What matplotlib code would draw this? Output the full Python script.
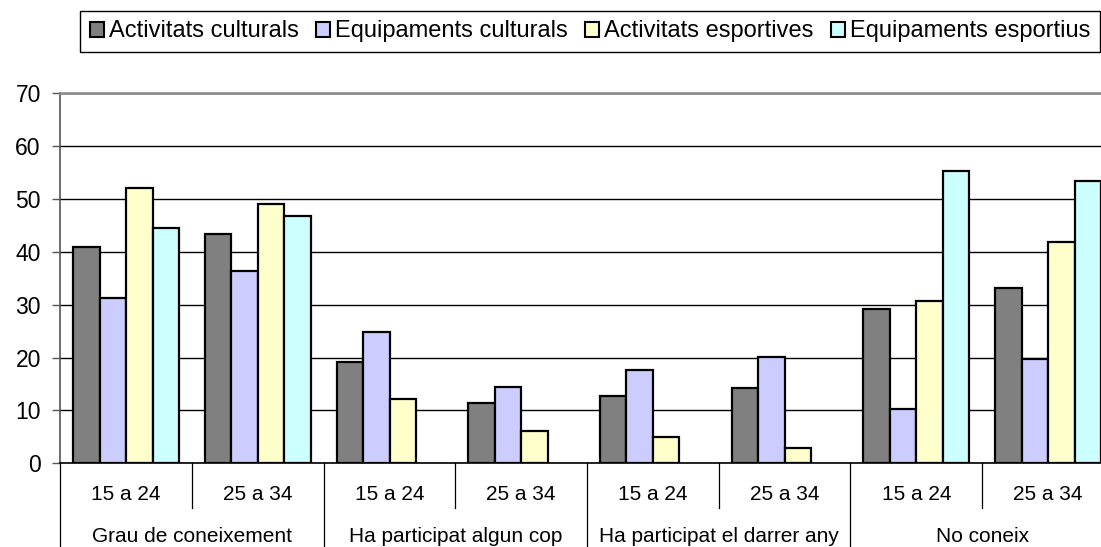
import numpy as np
import matplotlib
matplotlib.use("Agg")
import matplotlib.pyplot as plt
from matplotlib.patches import Patch

plt.rcParams['font.family'] = ['Liberation Sans', 'DejaVu Sans']

# data
groups = ['Grau de coneixement', 'Ha participat algun cop',
          'Ha participat el darrer any', 'No coneix']
ages = ['15 a 24', '25 a 34']
series = ['Activitats culturals', 'Equipaments culturals',
          'Activitats esportives', 'Equipaments esportius']

act_cult = [41.0, 43.4, 19.1, 11.5, 12.7, 14.2, 29.1, 33.1]
equip_cult = [31.3, 36.4, 24.8, 14.5, 17.7, 20.1, 10.3, 19.7]
act_esp = [52.0, 49.0, 12.1, 6.1, 4.9, 2.9, 30.8, 41.9]
equip_esp = [44.6, 46.7, np.nan, np.nan, np.nan, np.nan, 55.3, 53.5]

colors = ['#808080', '#CCCCFF', '#FFFFCC', '#CCFFFF']

W, H = 1101, 547
fig = plt.figure(figsize=(W / 100, H / 100), dpi=100)

# plot area (runs off the right edge like the original)
x0, y0 = 60.3, 463.3
grp_w = 131.7
ytop = 93.3
ax = fig.add_axes([x0 / W, (H - y0) / H, 8 * grp_w / W, (y0 - ytop) / H])

n = len(act_cult)
x = np.arange(n) + 0.5
bw = 0.201
all_vals = [act_cult, equip_cult, act_esp, equip_esp]
for k, vals in enumerate(all_vals):
    ax.bar(x + (k - 1.5) * bw, vals, width=bw, color=colors[k],
           edgecolor='black', linewidth=1.6, zorder=3)

ax.set_xlim(0, n)
ax.set_ylim(0, 70)
ax.set_yticks(range(0, 71, 10))
ax.yaxis.grid(True, color='black', linewidth=1.0, zorder=0)
ax.set_axisbelow(True)
ax.tick_params(axis='y', direction='out', length=6, width=1, color='#555555',
               pad=8, labelsize=16.5)
ax.set_xticks([])

ax.spines['right'].set_visible(False)
ax.spines['top'].set_color('#888888')
ax.spines['top'].set_linewidth(1.8)
ax.spines['left'].set_color('#555555')
ax.spines['left'].set_linewidth(1.2)
ax.spines['bottom'].set_color('black')
ax.spines['bottom'].set_linewidth(1.2)

# two-level category axis
tr = ax.get_xaxis_transform()
ah = y0 - ytop
sub_y = -(508 - y0) / ah
long_y = -(H + 5 - y0) / ah
sub_lbl = -(495 - y0) / ah
grp_lbl = -(537 - y0) / ah
for i in range(n + 1):
    yend = long_y if i % 2 == 0 else sub_y
    ax.plot([i, i], [0, yend], color='black', linewidth=0.9,
            transform=tr, clip_on=False)
for i in range(n):
    ax.text(i + 0.5, sub_lbl, ages[i % 2], transform=tr, ha='center',
            va='center', fontsize=15)
for j, g in enumerate(groups):
    ax.text(2 * j + 1, grp_lbl, g, transform=tr, ha='center',
            va='center', fontsize=15)

handles = [Patch(facecolor=c, edgecolor='black', linewidth=1.5) for c in colors]
leg = fig.legend(handles, series, ncol=4, loc='upper right',
                 bbox_to_anchor=(1100 / W, 1 - 11 / H),
                 bbox_transform=fig.transFigure,
                 fontsize=17, handlelength=0.6, handleheight=0.6,
                 handletextpad=0.22, columnspacing=0.72, borderpad=0.4,
                 borderaxespad=0, fancybox=False, framealpha=1,
                 edgecolor='black')
leg.get_frame().set_linewidth(1.0)

fig.savefig('out.png', dpi=100)
